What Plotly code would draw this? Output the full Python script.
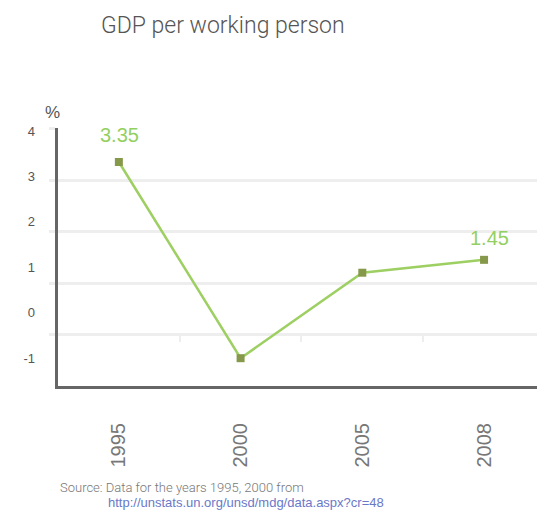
import plotly.graph_objects as go

years = ["1995", "2000", "2005", "2008"]
gdp_growth = [3.35, -0.46, 1.2, 1.45]
labelled_points = [0, 3]
y_ticks = [-1, 0, 1, 2, 3, 4]
y_ticktext = ["-1", "0", "1", "2", "3", "4"]
grid_vals = [0, 1, 2, 3, 4]

xpos = list(range(len(years)))

W, H = 537, 511
L, T = 58, 128
PW, PH = 537 - 58, 386 - 128
B = H - T - PH

fig = go.Figure()
fig.add_trace(go.Scatter(
    x=xpos, y=gdp_growth, mode="lines+markers",
    line=dict(color="#9dcf62", width=2.5),
    marker=dict(symbol="square", size=8, color="#86994a"),
    hoverinfo="skip", showlegend=False,
))
fig.add_trace(go.Scatter(x=[0], y=[0], xaxis="x2", yaxis="y2", mode="markers",
                         marker=dict(opacity=0), hoverinfo="skip", showlegend=False))

annots = []
for i, (xs, ys) in zip(labelled_points, [(1, 27), (5, 22)]):
    annots.append(dict(text=f"{gdp_growth[i]:.2f}", x=xpos[i], y=gdp_growth[i], xref="x", yref="y",
                       xshift=xs, yshift=ys, showarrow=False, xanchor="center", yanchor="middle",
                       font=dict(family="Liberation Sans, Arial", size=20, color="#93d061")))

annots += [
    dict(text="GDP per working person", xref="paper", yref="paper",
         x=(99 - 58) / PW, y=1 + (128 - 26) / PH, xanchor="left", yanchor="middle",
         showarrow=False,
         font=dict(family="Roboto", size=23, color="#555555", weight=300)),
    dict(text="%", xref="paper", yref="paper",
         x=(52 - 58) / PW, y=1 + (128 - 113) / PH, xanchor="center", yanchor="middle",
         showarrow=False,
         font=dict(family="Liberation Sans, Arial", size=17, color="#555555")),
    dict(text="Source: Data for the years 1995, 2000 from", xref="paper", yref="paper",
         x=0, y=-(487 - 386) / PH, xanchor="left", yanchor="middle", showarrow=False,
         font=dict(family="Roboto", size=13, color="#777777", weight=300)),
    dict(text="http://unstats.un.org/unsd/mdg/data.aspx?cr=48", xref="paper", yref="paper",
         x=(106 - 58) / PW, y=-(502 - 386) / PH, xanchor="left", yanchor="middle",
         showarrow=False,
         font=dict(family="Liberation Sans, Arial", size=13, color="#6a78c8")),
]

fig.update_layout(
    width=W, height=H,
    margin=dict(l=L, r=0, t=T, b=B),
    paper_bgcolor="white", plot_bgcolor="white",
    xaxis=dict(
        range=[-0.5, 3.435], tickvals=xpos, ticktext=years, tickangle=-90,
        showgrid=False, zeroline=False, showline=True, linecolor="#666666", linewidth=3,
        ticks="", ticklabelstandoff=26,
        tickfont=dict(family="Liberation Sans, Arial", size=20, color="#777777"),
    ),
    yaxis=dict(
        range=[-1, 4.01], tickvals=grid_vals, showgrid=True, gridcolor="#eeeeee", gridwidth=3,
        zeroline=False, showline=True, linecolor="#666666", linewidth=3,
        ticks="outside", ticklen=6, tickwidth=3, tickcolor="#eeeeee",
        showticklabels=False,
    ),
    xaxis2=dict(
        overlaying="x", anchor="free", position=0.2, side="bottom",
        range=[-0.5, 3.435], tickvals=[0.5, 1.5, 2.5], ticks="outside",
        ticklen=7, tickwidth=2, tickcolor="#eeeeee", showticklabels=False,
        showgrid=False, showline=False, zeroline=False,
    ),
    yaxis2=dict(
        overlaying="y", anchor="x", side="left",
        range=[-1.617, 4.066], tickvals=y_ticks, ticktext=y_ticktext,
        showgrid=False, showline=False, zeroline=False, ticks="",
        ticklabelstandoff=22,
        tickfont=dict(family="Liberation Sans, Arial", size=13, color="#555555"),
    ),
    annotations=annots,
)

fig.write_html(
    "out.html",
    config={"displayModeBar": False},
    post_script="document.body.style.margin='0';document.body.style.overflow='hidden';",
)
